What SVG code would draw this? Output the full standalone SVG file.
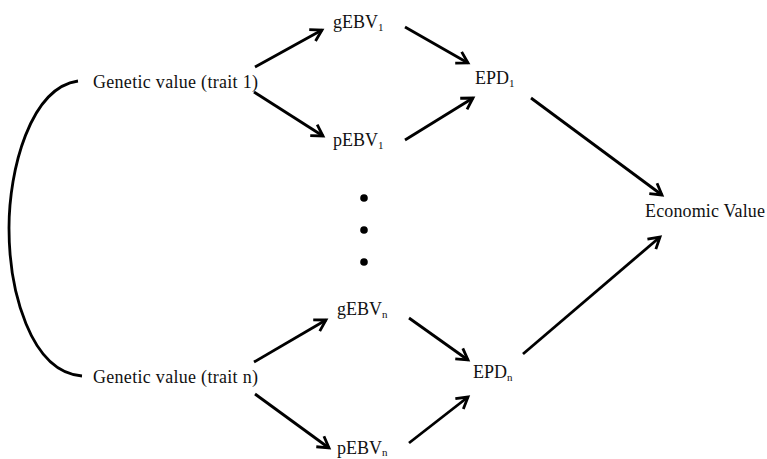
<svg xmlns="http://www.w3.org/2000/svg" width="767" height="459" viewBox="0 0 767 459">
<style>
text{font-family:"Liberation Serif","Times New Roman",serif;font-size:18px;fill:#111}
.sub{font-size:11px}
.c{stroke:#000;stroke-width:2.8;fill:none}
</style>
<defs>
<marker id="ah" markerUnits="userSpaceOnUse" markerWidth="20" markerHeight="20" refX="0" refY="0" viewBox="-14 -10 16 20" orient="auto">
<path d="M-11,-6.5 L0,0 L-11,6.5" fill="none" stroke="#000" stroke-width="2.8" stroke-linejoin="miter"/>
</marker>
</defs>
<rect width="767" height="459" fill="#fff"/>
<g id="connectors">
<path class="c" d="M78,81 C30,88 9,170 9,228 C9,290 30,372 82,376"/>
<line class="c" x1="255" y1="67" x2="322" y2="30" marker-end="url(#ah)"/>
<line class="c" x1="254" y1="92" x2="323" y2="136" marker-end="url(#ah)"/>
<line class="c" x1="405" y1="27" x2="468" y2="63" marker-end="url(#ah)"/>
<line class="c" x1="405" y1="140" x2="473" y2="98" marker-end="url(#ah)"/>
<line class="c" x1="531" y1="98" x2="662" y2="195" marker-end="url(#ah)"/>
<line class="c" x1="523" y1="354" x2="660" y2="237" marker-end="url(#ah)"/>
<line class="c" x1="254" y1="362" x2="326" y2="320" marker-end="url(#ah)"/>
<line class="c" x1="255" y1="394" x2="329" y2="448" marker-end="url(#ah)"/>
<line class="c" x1="409" y1="318" x2="468" y2="360" marker-end="url(#ah)"/>
<line class="c" x1="409" y1="443" x2="468" y2="397" marker-end="url(#ah)"/>
</g>
<g id="trait1"><text x="93" y="88" textLength="165" lengthAdjust="spacing">Genetic value (trait 1)</text></g>
<g id="traitn"><text x="93" y="383" textLength="165" lengthAdjust="spacing">Genetic value (trait n)</text></g>
<g id="gebv1"><text x="333" y="28">gEBV<tspan class="sub" dy="3">1</tspan></text></g>
<g id="pebv1"><text x="333" y="146">pEBV<tspan class="sub" dy="3">1</tspan></text></g>
<g id="epd1"><text x="475" y="84">EPD<tspan class="sub" dy="3">1</tspan></text></g>
<g id="econ"><text x="645" y="217" textLength="120" lengthAdjust="spacing">Economic Value</text></g>
<g id="gebvn"><text x="337" y="315">gEBV<tspan class="sub" dy="3">n</tspan></text></g>
<g id="epdn"><text x="473" y="378">EPD<tspan class="sub" dy="3">n</tspan></text></g>
<g id="pebvn"><text x="337" y="454">pEBV<tspan class="sub" dy="2">n</tspan></text></g>
<g id="dots">
<circle cx="364" cy="198" r="3.8" fill="#000"/>
<circle cx="364" cy="230" r="3.8" fill="#000"/>
<circle cx="364" cy="262" r="3.8" fill="#000"/>
</g>
</svg>
